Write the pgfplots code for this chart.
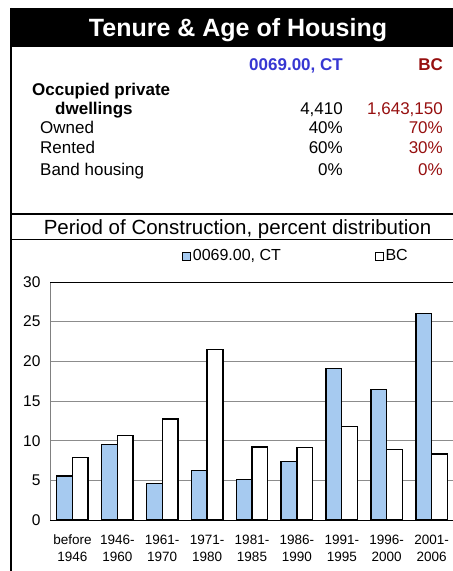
\documentclass[border=0pt]{standalone}
\usepackage{fontspec}
\setmainfont{Liberation Sans}
\usepackage{pgfplots}
\usepackage{pgfplotstable}
\pgfplotsset{compat=1.18}
\definecolor{ctblue}{RGB}{166,202,240}
\definecolor{txtblue}{RGB}{55,55,210}
\definecolor{txtred}{RGB}{150,15,15}
\pgfplotstableread{
idx ct bc
0 5.55 7.87
1 9.55 10.64
2 4.63 12.75
3 6.23 21.5
4 5.13 9.21
5 7.36 9.13
6 19.06 11.82
7 16.45 8.88
8 26.04 8.33
}\datatable
\newcommand{\fs}[1]{\fontsize{#1}{#1}\selectfont}
\begin{document}
\begin{tikzpicture}[x=1bp,y=1bp]
\path[use as bounding box] (0,0) rectangle (453,571);
% header
\fill[black] (11,563) rectangle (460,524);
\node[white,font=\fs{25bp}\bfseries,anchor=base] at (238,534) {Tenure \& Age of Housing};
\draw[line width=2bp] (11,563) -- (11,-5);
\draw[line width=2bp] (11,357) -- (460,357);
\draw[line width=1.5bp] (11,331.5) -- (460,331.5);
% table
\begin{scope}[every node/.style={inner sep=0pt,font=\fs{17bp}}]
\node[anchor=base east,text=txtblue,font=\fs{17bp}\bfseries] at (343,500) {0069.00, CT};
\node[anchor=base east,text=txtred,font=\fs{17bp}\bfseries] at (443,500) {BC};
\node[anchor=base west,font=\fs{17bp}\bfseries] at (32,475) {Occupied private};
\node[anchor=base west,font=\fs{17bp}\bfseries] at (55,456) {dwellings};
\node[anchor=base east] at (343,456) {4,410};
\node[anchor=base east,text=txtred] at (443,456) {1,643,150};
\node[anchor=base west] at (40,437) {Owned};
\node[anchor=base east] at (343,437) {40\%};
\node[anchor=base east,text=txtred] at (443,437) {70\%};
\node[anchor=base west] at (40,417) {Rented};
\node[anchor=base east] at (343,417) {60\%};
\node[anchor=base east,text=txtred] at (443,417) {30\%};
\node[anchor=base west] at (40,395) {Band housing};
\node[anchor=base east] at (343,395) {0\%};
\node[anchor=base east,text=txtred] at (443,395) {0\%};
\node[anchor=base,font=\fs{20.5bp}] at (237.5,336) {Period of Construction, percent distribution};
\end{scope}
\begin{axis}[
  at={(50bp,51bp)}, anchor=south west,
  scale only axis, width=404bp, height=238bp,
  ybar=0pt, bar width=15.7bp,
  xmin=-0.5, xmax=8.5, ymin=0, ymax=30,
  xtick=data,
  xticklabels={before\\1946,1946-\\1960,1961-\\1970,1971-\\1980,1981-\\1985,1986-\\1990,1991-\\1995,1996-\\2000,2001-\\2006},
  xticklabel style={align=center,font=\fontsize{13.5bp}{17bp}\selectfont,inner sep=0pt,anchor=north,yshift=-15bp},
  ytick={0,5,...,30},
  yticklabel style={font=\fs{15.5bp},xshift=-6bp},
  /pgf/number format/assume math mode=true,
  major tick length=0pt,
  ymajorgrids, grid style={gray!90,line width=0.8bp},
  axis lines*=left,
  x axis line style={black,line width=0.9bp,-},
  y axis line style={gray,line width=0.9bp,-},
  legend columns=2,
  legend style={draw=none,fill=none,at={(0.327,1)},anchor=west,yshift=26bp,inner sep=0pt,
    font=\fs{16bp},/tikz/every even column/.append style={column sep=92bp}},
  legend image code/.code={\draw[#1,draw=black,line width=0.6bp] (0bp,-4bp) rectangle (8bp,4bp);},
]
\addplot[fill=ctblue,draw=black,line width=1.4bp] table[x=idx,y=ct]{\datatable};
\addplot[fill=white,draw=black,line width=1.4bp] table[x=idx,y=bc]{\datatable};
\legend{0069.00{,} CT,BC}
\draw[black,line width=0.9bp] (rel axis cs:0,1) -- (rel axis cs:1,1);
\end{axis}
\end{tikzpicture}
\end{document}
